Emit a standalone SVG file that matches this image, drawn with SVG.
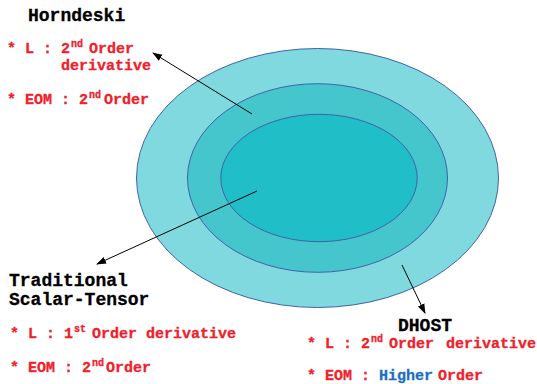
<svg xmlns="http://www.w3.org/2000/svg" width="537" height="384" viewBox="0 0 537 384">
  <style>
    .ring { stroke: #3f63a8; stroke-width: 1; }
    .title { font-family: "Liberation Mono", "Courier New", monospace; font-weight: bold; font-size: 18px; fill: #000; stroke: #000; stroke-width: 0.3; }
    .item { font-family: "Liberation Mono", "Courier New", monospace; font-weight: bold; font-size: 15px; fill: #f0202a; stroke: #f0202a; stroke-width: 0.3; }
    .sup { font-size: 10px; }
    .hi { fill: #1a6fc0; stroke: #1a6fc0; }
    .conn { stroke: #000; stroke-width: 1; fill: none; marker-end: url(#head); }
  </style>
  <defs>
    <marker id="head" viewBox="0 0 10 10" refX="9" refY="5" markerWidth="10" markerHeight="10" markerUnits="userSpaceOnUse" orient="auto">
      <path d="M0,1.5 L10,5 L0,8.5 z" fill="#000"/>
    </marker>
  </defs>
  <rect width="537" height="384" fill="#fff"/>

  <!-- nested theory classes -->
  <g id="dhost-set">
    <ellipse class="ring" cx="317.5" cy="178" rx="181" ry="129.5" fill="#80d9de"/>
  </g>
  <g id="horndeski-set">
    <ellipse class="ring" cx="317.5" cy="178" rx="130" ry="94.3" fill="#44c6cc"/>
  </g>
  <g id="scalar-tensor-set">
    <ellipse class="ring" cx="319" cy="178" rx="98.2" ry="63.7" fill="#20bec6"/>
  </g>

  <!-- connectors from each set to its description -->
  <g id="connectors">
    <line class="conn" x1="252" y1="114" x2="153" y2="53"/>
    <line class="conn" x1="257" y1="191" x2="97" y2="264"/>
    <line class="conn" x1="402" y1="265" x2="425" y2="313"/>
  </g>

  <g id="horndeski-label">
    <text class="title" x="28" y="21">Horndeski</text>
    <text class="item" y="53"><tspan x="7">* L : 2</tspan><tspan class="sup" x="71" dy="-6">nd</tspan><tspan x="89" dy="6">Order</tspan></text>
    <text class="item" x="61" y="70">derivative</text>
    <text class="item" y="104"><tspan x="7">* EOM : 2</tspan><tspan class="sup" x="89" dy="-6">nd</tspan><tspan x="104" dy="6">Order</tspan></text>
  </g>

  <g id="scalar-tensor-label">
    <text class="title" x="9" y="286">Traditional</text>
    <text class="title" x="9" y="305">Scalar-Tensor</text>
    <text class="item" y="338"><tspan x="10">* L : 1</tspan><tspan class="sup" x="74" dy="-6">st</tspan><tspan x="92" dy="6">Order derivative</tspan></text>
    <text class="item" y="372"><tspan x="10">* EOM : 2</tspan><tspan class="sup" x="92" dy="-6">nd</tspan><tspan x="106" dy="6">Order</tspan></text>
  </g>

  <g id="dhost-label">
    <text class="title" x="398" y="331">DHOST</text>
    <text class="item" y="348"><tspan x="307">* L : 2</tspan><tspan class="sup" x="371" dy="-6">nd</tspan><tspan x="389" dy="6">Order</tspan><tspan x="446">derivative</tspan></text>
    <text class="item" y="380"><tspan x="307">* EOM : </tspan><tspan class="hi" x="379">Higher</tspan><tspan x="438">Order</tspan></text>
  </g>
</svg>
